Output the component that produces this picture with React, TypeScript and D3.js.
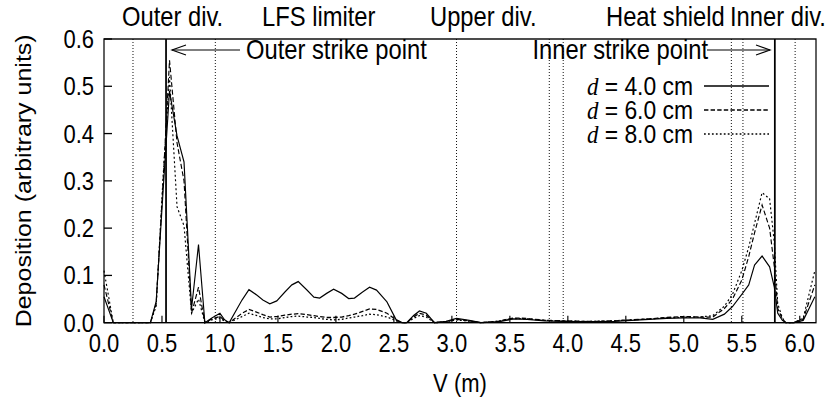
import * as d3 from 'd3';

// poloidal coordinate along the wall (m)
const V = [
  0.0, 0.08, 0.2, 0.4, 0.45, 0.51, 0.565, 0.63, 0.69, 0.755, 0.815, 0.87, 0.93, 1.0, 1.04, 1.08,
  1.19, 1.25, 1.32, 1.37, 1.43, 1.49, 1.56, 1.62, 1.675, 1.75, 1.81, 1.86, 1.92, 1.98, 2.05, 2.11,
  2.16, 2.23, 2.29, 2.35, 2.44, 2.52, 2.57, 2.61, 2.67, 2.72, 2.78, 2.85, 2.95, 3.04, 3.15, 3.25,
  3.4, 3.53, 3.65, 3.8, 3.95, 4.1, 4.25, 4.4, 4.55, 4.7, 4.85, 5.0, 5.14, 5.25, 5.35, 5.42, 5.5,
  5.56, 5.61, 5.675, 5.74, 5.78, 5.81, 5.85, 5.88, 5.95, 6.03, 6.13,
];

// d = 4.0 cm
const dep4 = [
  0.055, 0, 0, 0, 0.045, 0.28, 0.49, 0.395, 0.34, 0.03, 0.165, 0, 0.01, 0.02, 0.006, 0,
  0.048, 0.07, 0.058, 0.048, 0.04, 0.046, 0.065, 0.08, 0.087, 0.069, 0.054, 0.052, 0.062, 0.071, 0.062, 0.051,
  0.052, 0.065, 0.075, 0.069, 0.044, 0.006, 0, 0, 0.015, 0.025, 0.02, 0, 0.003, 0.009, 0.005, 0,
  0.002, 0.008, 0.007, 0.004, 0.003, 0.002, 0.002, 0.003, 0.005, 0.007, 0.009, 0.01, 0.01, 0.007, 0.018, 0.034, 0.06,
  0.08, 0.122, 0.141, 0.118, 0.076, 0.02, 0.005, 0, 0, 0.005, 0.055,
];

// d = 6.0 cm
const dep6 = [
  0.08, 0, 0, 0, 0.04, 0.3, 0.555, 0.38, 0.3, 0.02, 0.075, 0, 0.008, 0.013, 0.004, 0,
  0.02, 0.028, 0.022, 0.017, 0.012, 0.013, 0.016, 0.018, 0.019, 0.017, 0.015, 0.013, 0.011, 0.011, 0.012, 0.015,
  0.018, 0.024, 0.029, 0.028, 0.02, 0.006, 0, 0, 0.012, 0.02, 0.016, 0, 0.002, 0.007, 0.004, 0,
  0.003, 0.01, 0.009, 0.005, 0.004, 0.003, 0.003, 0.004, 0.006, 0.008, 0.011, 0.013, 0.012, 0.012, 0.03, 0.05, 0.09,
  0.14, 0.19, 0.249, 0.2, 0.12, 0.03, 0.008, 0, 0, 0.008, 0.08,
];

// d = 8.0 cm
const dep8 = [
  0.11, 0, 0, 0, 0.035, 0.31, 0.52, 0.245, 0.205, 0.02, 0.05, 0, 0.006, 0.01, 0.003, 0,
  0.013, 0.02, 0.015, 0.011, 0.008, 0.008, 0.011, 0.013, 0.014, 0.012, 0.011, 0.009, 0.007, 0.006, 0.007, 0.01,
  0.012, 0.015, 0.018, 0.017, 0.012, 0.004, 0, 0, 0.009, 0.015, 0.012, 0, 0.002, 0.006, 0.003, 0,
  0.003, 0.009, 0.008, 0.005, 0.004, 0.003, 0.003, 0.004, 0.006, 0.008, 0.01, 0.012, 0.012, 0.015, 0.035, 0.06, 0.11,
  0.16, 0.21, 0.275, 0.262, 0.17, 0.04, 0.01, 0, 0, 0.01, 0.11,
];

const seriesNames = ['4.0', '6.0', '8.0'];
const xTicks = [0, 0.5, 1.0, 1.5, 2.0, 2.5, 3.0, 3.5, 4.0, 4.5, 5.0, 5.5, 6.0];
const yTicks = [0, 0.1, 0.2, 0.3, 0.4, 0.5, 0.6];
const strikePoints = [0.535, 5.785];
const boundaries = [0.25, 0.96, 3.04, 3.84, 3.96, 5.41, 5.51, 5.96];
const regionNames = ['Outer div.', 'LFS limiter', 'Upper div.', 'Heat shield', 'Inner div.'];

// the original figure is squeezed horizontally
const SX = 0.88;
const W = 834;
const H = 401;
const left = 104, right = 816, top = 39, bottom = 322.7;

const x = d3.scaleLinear().domain([0, 6.14]).range([left / SX, right / SX]);
const y = d3.scaleLinear().domain([0, 0.6]).range([bottom, top]);

const styles = [
  { dash: 'none' },
  { dash: '5,2.5' },
  { dash: '2,2.5' },
];

const regionX = [122, 262, 430, 606, 730];

const App = () => {
  const all = [dep4, dep6, dep8];
  const line = d3.line<number>()
    .x((_, i) => x(V[i]))
    .y(d => y(d));

  const px = (v: number) => v / SX;
  const arrow = (tipX: number, yy: number, dir: number) =>
    `M${px(tipX + dir * 14)},${yy - 5}L${px(tipX)},${yy}L${px(tipX + dir * 14)},${yy + 5}`;

  const font = 'Liberation Sans, Arial, sans-serif';

  return (
    <svg width={W} height={H} style={{ position: 'absolute', left: 0, top: 0, background: '#fff' }}
      fontFamily={font}>
      <g transform={`scale(${SX},1)`}>
        {/* region boundaries */}
        {boundaries.map(b => (
          <line key={b} x1={x(b)} x2={x(b)} y1={top} y2={bottom}
            stroke="#000" strokeWidth={1} strokeDasharray="1,2" />
        ))}
        {strikePoints.map(s => (
          <line key={s} x1={x(s)} x2={x(s)} y1={top} y2={bottom} stroke="#000" strokeWidth={2} />
        ))}

        {/* ticks */}
        {xTicks.map(t => (
          <g key={t}>
            <line x1={x(t)} x2={x(t)} y1={bottom} y2={bottom - 7} stroke="#000" strokeWidth={1.3} />
            <text x={x(t)} y={bottom + 29} textAnchor="middle" fontSize={25}>{t.toFixed(1)}</text>
          </g>
        ))}
        {yTicks.map(t => (
          <g key={t}>
            <line x1={px(left)} x2={px(left + 8)} y1={y(t)} y2={y(t)} stroke="#000" strokeWidth={1.3} />
            <text x={px(94)} y={y(t) + 9} textAnchor="end" fontSize={25}>{t.toFixed(1)}</text>
          </g>
        ))}

        {/* curves */}
        {all.map((s, i) => (
          <path key={i} d={line(s) ?? ''} fill="none" stroke="#000" strokeWidth={1.3}
            strokeDasharray={styles[i].dash} strokeLinejoin="miter" />
        ))}

        {/* frame */}
        <rect x={px(left)} y={top} width={px(right) - px(left)} height={bottom - top}
          fill="none" stroke="#000" strokeWidth={1.4} />

        {/* strike point annotations */}
        <line x1={px(172)} x2={px(240)} y1={50} y2={50} stroke="#000" strokeWidth={1.2} />
        <path d={arrow(172, 50, 1)} fill="none" stroke="#000" strokeWidth={1.2} />
        <text x={px(246)} y={59} fontSize={27}>Outer strike point</text>

        <line x1={px(707)} x2={px(770)} y1={50} y2={50} stroke="#000" strokeWidth={1.2} />
        <path d={arrow(770, 50, -1)} fill="none" stroke="#000" strokeWidth={1.2} />
        <text x={px(708)} y={59} fontSize={27} textAnchor="end">Inner strike point</text>

        {/* legend */}
        {seriesNames.map((n, i) => {
          const ly = 86 + i * 24;
          return (
            <g key={n}>
              <text x={px(693)} y={ly + 9} fontSize={26} textAnchor="end">
                <tspan fontFamily="Liberation Serif, Times New Roman, serif" fontStyle="italic">d</tspan>
                {` = ${n} cm`}
              </text>
              <line x1={px(704)} x2={px(769)} y1={ly} y2={ly} stroke="#000" strokeWidth={1.3}
                strokeDasharray={styles[i].dash} />
            </g>
          );
        })}

        {/* region names */}
        {regionNames.map((r, i) => (
          <text key={r} x={px(regionX[i])} y={26} fontSize={27}>{r}</text>
        ))}

        {/* axis titles */}
        <text x={px(460)} y={392} textAnchor="middle" fontSize={25}>V (m)</text>
        <text transform={`translate(${px(31)},${(top + bottom) / 2}) rotate(-90)`} textAnchor="middle"
          fontSize={25}>Deposition (arbitrary units)</text>
      </g>
    </svg>
  );
};

export default App;
